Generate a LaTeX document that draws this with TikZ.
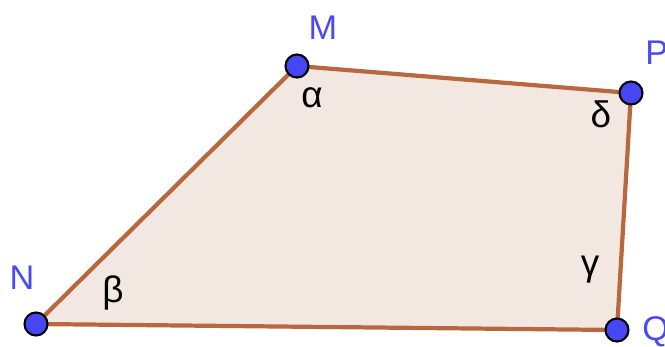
\documentclass[tikz,border=0pt]{standalone}
\usepackage{fontspec}
\setmainfont{Liberation Sans}
\definecolor{edgec}{HTML}{B8683F}
\definecolor{fillc}{HTML}{F3E7E2}
\definecolor{ptc}{HTML}{4646F5}
\definecolor{lblc}{HTML}{4A4AF0}
\begin{document}
\begin{tikzpicture}[x=0.02cm,y=-0.02cm,
  pt/.style={circle,fill=ptc,draw=black,line width=1.2pt,minimum size=23*0.02cm,inner sep=0pt},
  lbl/.style={text=lblc,font=\fontsize{19.5}{19.5}\selectfont,inner sep=0pt},
  ang/.style={text=black,font=\fontsize{21}{21}\selectfont,inner sep=0pt}]
\useasboundingbox (0,0) rectangle (665,347);
\clip (0,0) rectangle (665,347);
\coordinate (m) at (297,66);
\coordinate (p) at (631,93);
\coordinate (q) at (617,330);
\coordinate (n) at (36,324);
\draw[fill=fillc,draw=edgec,line width=2.4pt,line join=round] (m) -- (p) -- (q) -- (n) -- cycle;
\node[pt] (M) at (m) {};
\node[pt] (P) at (p) {};
\node[pt] (Q) at (q) {};
\node[pt] (N) at (n) {};
\node[lbl] (lM) at (323,28) {M};
\node[lbl,anchor=west] (lP) at (645,53) {P};
\node[lbl,anchor=west] (lQ) at (642,332) {Q};
\node[lbl] (lN) at (22,278) {N};
\node[ang] (a) at (312,98) {α};
\node[ang] (d) at (601,114) {δ};
\node[ang] (g) at (590,270) {γ};
\node[ang] (b) at (113,293) {β};
\end{tikzpicture}
\end{document}
